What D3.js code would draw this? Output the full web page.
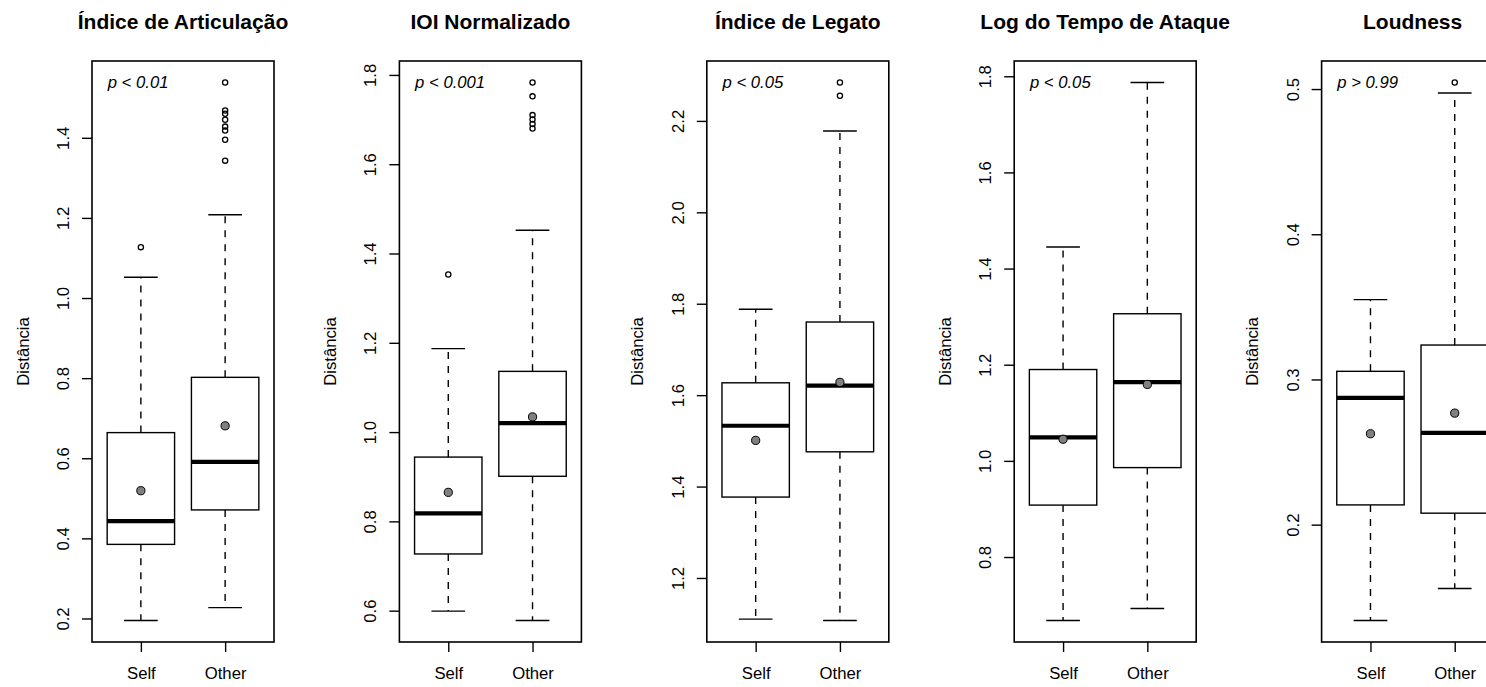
<!DOCTYPE html>
<html>
<head>
<meta charset="utf-8">
<script src="https://cdn.jsdelivr.net/npm/d3@7"></script>
<style>
  body { margin: 0; background: #fff; }
  svg { display: block; font-family: 'Liberation Sans', Arial, Helvetica, sans-serif; }
</style>
</head>
<body>
<div id="chart"></div>
<script>
const titles = ['Índice de Articulação', 'IOI Normalizado', 'Índice de Legato', 'Log do Tempo de Ataque', 'Loudness']
const pTexts = ['p < 0.01', 'p < 0.001', 'p < 0.05', 'p < 0.05', 'p > 0.99']
const groups = ['Self', 'Other']

// per panel: [Self, Other]
const whiskerLow = [[0.195, 0.227], [0.599, 0.578], [1.110, 1.107], [0.668, 0.693], [0.134, 0.156]]
const q1 = [[0.385, 0.471], [0.727, 0.901], [1.377, 1.476], [0.908, 0.986], [0.2136, 0.2079]]
const medians = [[0.443, 0.591], [0.818, 1.020], [1.533, 1.621], [1.049, 1.164], [0.2873, 0.2632]]
const means = [[0.519, 0.681], [0.865, 1.034], [1.501, 1.628], [1.045, 1.159], [0.2626, 0.2768]]
const q3 = [[0.664, 0.802], [0.944, 1.136], [1.627, 1.760], [1.190, 1.306], [0.3056, 0.3237]]
const whiskerHigh = [[1.052, 1.208], [1.187, 1.452], [1.788, 2.178], [1.445, 1.787], [0.355, 0.4973]]
const outliers = [
  [[1.127], [1.538, 1.468, 1.460, 1.445, 1.428, 1.418, 1.395, 1.343]],
  [[1.353], [1.783, 1.752, 1.710, 1.700, 1.690, 1.680]],
  [[], [2.284, 2.255]],
  [[], []],
  [[], [0.5045]]
]
const yTicks = [
  [0.2, 0.4, 0.6, 0.8, 1.0, 1.2, 1.4],
  [0.6, 0.8, 1.0, 1.2, 1.4, 1.6, 1.8],
  [1.2, 1.4, 1.6, 1.8, 2.0, 2.2],
  [0.8, 1.0, 1.2, 1.4, 1.6, 1.8],
  [0.2, 0.3, 0.4, 0.5]
]

const W = 1486, H = 687
const panelW = 307.4
const margin = { left: 92, top: 61 }
const plotW = 182, plotH = 581

const svg = d3.select('#chart').append('svg').attr('width', W).attr('height', H)

titles.forEach((title, p) => {
  const g = svg.append('g').attr('transform', `translate(${p * panelW + margin.left}, ${margin.top})`)

  // y range like R: data extent padded by 4%
  const all = [...whiskerLow[p], ...whiskerHigh[p], ...outliers[p][0], ...outliers[p][1]]
  const [lo, hi] = d3.extent(all)
  const pad = (hi - lo) * 0.04
  const y = d3.scaleLinear().domain([lo - pad, hi + pad]).range([plotH, 0])
  const x = d3.scaleLinear().domain([0.42, 2.58]).range([0, plotW])
  const bw = x(1.8) - x(1)
  const cap = bw / 2

  g.append('text')
    .attr('x', plotW / 2)
    .attr('y', 29 - margin.top)
    .attr('text-anchor', 'middle')
    .attr('font-size', 21)
    .attr('font-weight', 'bold')
    .text(title)

  g.append('text')
    .attr('x', 15.7)
    .attr('y', 27)
    .attr('font-size', 16.7)
    .attr('font-style', 'italic')
    .text(pTexts[p])

  g.append('text')
    .attr('transform', `translate(-63.5, ${plotH / 2}) rotate(-90)`)
    .attr('text-anchor', 'middle')
    .attr('font-size', 16.7)
    .text('Distância')

  g.append('g')
    .call(d3.axisLeft(y).tickValues(yTicks[p]).tickSize(10).tickFormat(d3.format('.1f')))
    .call(a => a.select('.domain').remove())
    .call(a => a.selectAll('line').attr('stroke', '#000').attr('stroke-width', 1.4))
    .call(a => a.selectAll('text')
      .attr('x', null).attr('dy', null)
      .attr('transform', 'translate(-23, 0) rotate(-90)')
      .attr('text-anchor', 'middle')
      .attr('fill', '#000')
      .attr('font-size', 16.7)
      .attr('font-family', null))

  g.append('g')
    .attr('transform', `translate(0, ${plotH})`)
    .call(d3.axisBottom(x).tickValues([1, 2]).tickSize(10).tickFormat(i => groups[i - 1]))
    .call(a => a.select('.domain').remove())
    .call(a => a.selectAll('line').attr('stroke', '#000').attr('stroke-width', 1.4))
    .call(a => a.selectAll('text')
      .attr('y', 37).attr('dy', null)
      .attr('fill', '#000')
      .attr('font-size', 16.7)
      .attr('font-family', null))

  groups.forEach((grp, i) => {
    const cx = x(i + 1)
    const b = g.append('g')

    // whiskers
    b.append('line')
      .attr('x1', cx).attr('x2', cx)
      .attr('y1', y(q1[p][i])).attr('y2', y(whiskerLow[p][i]))
      .attr('stroke', '#000').attr('stroke-width', 1.4).attr('stroke-dasharray', '7,7')
    b.append('line')
      .attr('x1', cx).attr('x2', cx)
      .attr('y1', y(q3[p][i])).attr('y2', y(whiskerHigh[p][i]))
      .attr('stroke', '#000').attr('stroke-width', 1.4).attr('stroke-dasharray', '7,7')
    ;[whiskerLow[p][i], whiskerHigh[p][i]].forEach(v => {
      b.append('line')
        .attr('x1', cx - cap / 2).attr('x2', cx + cap / 2)
        .attr('y1', y(v)).attr('y2', y(v))
        .attr('stroke', '#000').attr('stroke-width', 1.4)
    })

    b.append('rect')
      .attr('x', cx - bw / 2)
      .attr('width', bw)
      .attr('y', y(q3[p][i]))
      .attr('height', y(q1[p][i]) - y(q3[p][i]))
      .attr('fill', '#fff')
      .attr('stroke', '#000')
      .attr('stroke-width', 1.4)

    b.append('line')
      .attr('x1', cx - bw / 2).attr('x2', cx + bw / 2)
      .attr('y1', y(medians[p][i])).attr('y2', y(medians[p][i]))
      .attr('stroke', '#000').attr('stroke-width', 4.2)

    b.selectAll('.out')
      .data(outliers[p][i])
      .join('circle')
      .attr('class', 'out')
      .attr('cx', cx).attr('cy', d => y(d))
      .attr('r', 2.6)
      .attr('fill', 'none')
      .attr('stroke', '#000')
      .attr('stroke-width', 1.3)

    b.append('circle')
      .attr('cx', cx).attr('cy', y(means[p][i]))
      .attr('r', 4.1)
      .attr('fill', '#808080')
      .attr('stroke', '#000')
      .attr('stroke-width', 1)
  })

  g.append('rect')
    .attr('width', plotW).attr('height', plotH)
    .attr('fill', 'none')
    .attr('stroke', '#000')
    .attr('stroke-width', 1.6)
})
</script>
</body>
</html>
